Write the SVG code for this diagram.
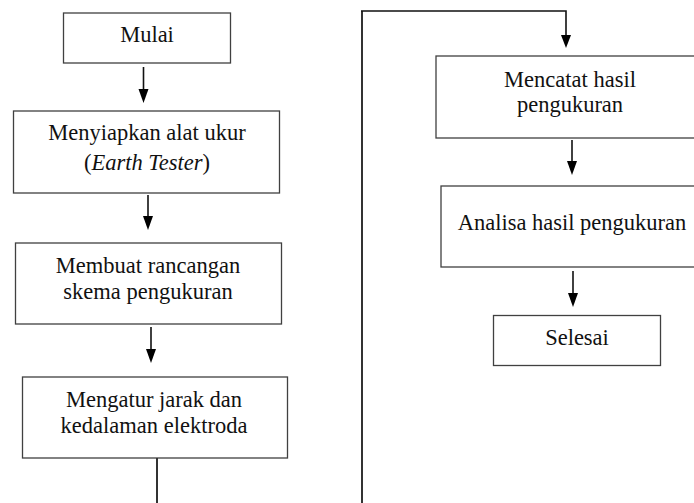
<svg xmlns="http://www.w3.org/2000/svg" width="694" height="503" viewBox="0 0 694 503">
<defs>
<style>
.box{fill:#fff;stroke:#404040;stroke-width:1.3}
.t{font-family:"Liberation Serif","Times New Roman",serif;font-size:22.5px;fill:#111;text-anchor:middle}
.ln{fill:none;stroke:#111;stroke-width:1.6}
.ln2{fill:none;stroke:#333;stroke-width:2}
.ah{fill:#000}
</style>
</defs>
<g id="n1"><rect class="box" x="63.5" y="13" width="167" height="50"/><text class="t" x="147" y="42">Mulai</text></g>
<g id="n2"><rect class="box" x="13.5" y="111" width="266" height="82"/><text class="t" x="147" y="140">Menyiapkan alat ukur</text><text class="t" x="147" y="170">(<tspan font-style="italic">Earth Tester</tspan>)</text></g>
<g id="n3"><rect class="box" x="15.5" y="243" width="266" height="81"/><text class="t" x="148" y="273">Membuat rancangan</text><text class="t" x="148" y="299">skema pengukuran</text></g>
<g id="n4"><rect class="box" x="22.5" y="377" width="265" height="81"/><text class="t" x="154" y="407">Mengatur jarak dan</text><text class="t" x="154" y="433">kedalaman elektroda</text></g>
<g id="n5"><rect class="box" x="436" y="56" width="270" height="82"/><text class="t" x="570" y="87">Mencatat hasil</text><text class="t" x="570" y="112">pengukuran</text></g>
<g id="n6"><rect class="box" x="441" y="186" width="270" height="81"/><text class="t" x="572" y="230">Analisa hasil pengukuran</text></g>
<g id="n7"><rect class="box" x="493.5" y="315.5" width="167" height="50"/><text class="t" x="577" y="345">Selesai</text></g>
<g id="connectors">
<path class="ln" d="M143.5 67V90"/><path class="ah" d="M138.5 89H148.5L143.5 103Z"/>
<path class="ln" d="M148 195V218"/><path class="ah" d="M143 216H153L148 230Z"/>
<path class="ln" d="M151 327V350"/><path class="ah" d="M146 349H156L151 363Z"/>
<path class="ln2" d="M157 458V503"/>
<path class="ln2" d="M362 503V11"/>
<path class="ln" d="M361 11H566V36"/><path class="ah" d="M561 35H571L566 48Z"/>
<path class="ln" d="M572 140V163"/><path class="ah" d="M567 161H577L572 175Z"/>
<path class="ln" d="M573 271V295"/><path class="ah" d="M568 293H578L573 307Z"/>
</g>
</svg>
